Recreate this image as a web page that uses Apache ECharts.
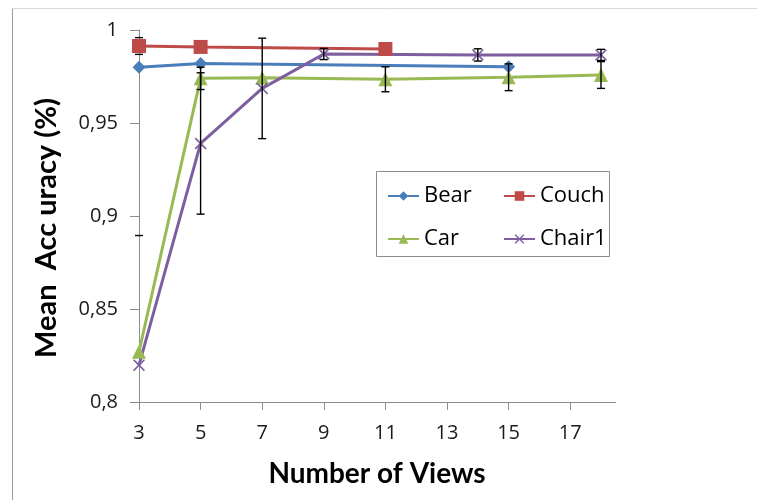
<!DOCTYPE html>
<html>
<head>
<meta charset="utf-8">
<script src="https://cdn.jsdelivr.net/npm/echarts@6/dist/echarts.min.js"></script>
<style>html,body{margin:0;padding:0;background:#fff;}#c{width:757px;height:500px;}</style>
</head>
<body>
<div id="c"></div>
<script>
// ---- data ----
const xCategories = ['3','4','5','6','7','8','9','10','11','12','13','14','15','16','17','18'];
const yTicks = [0.8, 0.85, 0.9, 0.95, 1];

const bearX = [3, 5, 15];
const bearY = [0.980, 0.982, 0.9803];
const bearErr = [0, 0, 0];

const couchX = [3, 5, 11];
const couchY = [0.9914, 0.9909, 0.9898];
const couchErr = [0.0045, 0, 0];

const carX = [3, 5, 7, 11, 15, 18];
const carY = [0.827, 0.974, 0.9743, 0.9735, 0.9746, 0.9758];
const carErr = [0.0625, 0.006, 0, 0.0067, 0.0072, 0.0072];

const chairX = [3, 5, 7, 9, 14, 18];
const chairY = [0.8198, 0.939, 0.9686, 0.9871, 0.9866, 0.9866];
const chairErr = [0, 0.038, 0.027, 0.003, 0.0033, 0.003];

const seriesNames = ['Bear', 'Couch', 'Car', 'Chair1'];
const colors = ['#4A7EBB', '#BE4B48', '#98B954', '#7D5FA0'];

// ---- build ----
const Y_MIN = yTicks[0], Y_MAX = yTicks[yTicks.length - 1];
function pairs(xs, ys) { return xs.map((x, i) => [String(x), ys[i]]); }
function errData(xs, ys, es) {
  const out = [];
  xs.forEach((x, i) => { if (es[i] > 0) out.push([String(x), ys[i] - es[i], ys[i] + es[i]]); });
  return out;
}
const xSym = 'path://M0,1L1,0L5,4L9,0L10,1L6,5L10,9L9,10L5,6L1,10L0,9L4,5Z';

function lineSeries(name, xs, ys, color, symbol, size) {
  return {
    name: name, type: 'line', data: pairs(xs, ys),
    symbol: symbol, symbolSize: size, showSymbol: true,
    lineStyle: { color: color, width: 3 },
    itemStyle: { color: color },
    z: 2, animation: false
  };
}
function errSeries(xs, ys, es, z) {
  return {
    type: 'custom', name: 'err', z: z, animation: false, silent: true,
    data: errData(xs, ys, es),
    encode: { x: 0, y: [1, 2] },
    renderItem: function (params, api) {
      const x = api.value(0), lo = api.value(1), hi = api.value(2);
      const loC = Math.max(lo, Y_MIN), hiC = Math.min(hi, Y_MAX);
      const pHi = api.coord([x, hiC]);
      const pLo = api.coord([x, loC]);
      const cap = 4;
      const st = { stroke: '#000', lineWidth: 1.4 };
      const ch = [];
      // on the first category the bar body lies under the value axis line
      if (x !== 0) ch.push({ type: 'line', shape: { x1: pHi[0], y1: pHi[1], x2: pLo[0], y2: pLo[1] }, style: st });
      if (hi <= Y_MAX) ch.push({ type: 'line', shape: { x1: pHi[0] - cap, y1: pHi[1], x2: pHi[0] + cap, y2: pHi[1] }, style: st });
      if (lo >= Y_MIN) ch.push({ type: 'line', shape: { x1: pLo[0] - cap, y1: pLo[1], x2: pLo[0] + cap, y2: pLo[1] }, style: st });
      return { type: 'group', children: ch };
    }
  };
}

const FONT = '"Open Sans", "DejaVu Sans", sans-serif';
const oddOnly = function (idx, val) { return (+val) % 2 === 1; };

const chart = echarts.init(document.getElementById('c'), null, { renderer: 'canvas' });
chart.setOption({
  animation: false,
  backgroundColor: '#fff',
  grid: { left: 139, top: 30, width: 462, height: 372, containLabel: false },
  xAxis: {
    type: 'category', data: xCategories, boundaryGap: false,
    name: 'Number of Views', nameLocation: 'middle', nameGap: 58,
    nameTextStyle: { fontFamily: 'Lato, sans-serif', fontWeight: 'bold', fontSize: 28, color: '#000', padding: [0, 0, 0, 14] },
    axisLine: { lineStyle: { color: '#8c8c8c', width: 1 } },
    axisTick: { show: true, interval: oddOnly, length: 8, lineStyle: { color: '#8c8c8c' } },
    axisLabel: { interval: oddOnly, margin: 21, fontFamily: FONT, fontSize: 20, color: '#1a1a1a' },
    splitLine: { show: false }
  },
  yAxis: {
    type: 'value', min: Y_MIN, max: Y_MAX, interval: 0.05,
    name: 'Mean  Acc uracy (%)', nameLocation: 'middle', nameGap: 78, nameRotate: 90,
    nameTextStyle: { fontFamily: 'Lato, sans-serif', fontWeight: 'bold', fontSize: 29, color: '#000', padding: [0, 24, 0, 0] },
    axisLine: { show: true, lineStyle: { color: '#8c8c8c', width: 1 } },
    axisTick: { show: true, length: 9, lineStyle: { color: '#8c8c8c' } },
    axisLabel: {
      margin: 21, fontFamily: FONT, fontSize: 20, color: '#1a1a1a',
      formatter: function (v) { return String(parseFloat(v.toFixed(2))).replace('.', ','); }
    },
    splitLine: { show: false }
  },
  legend: [
    {
      data: ['Bear', 'Car'], orient: 'vertical', left: 382, top: 180,
      itemWidth: 31, itemHeight: 12, itemGap: 21,
      textStyle: { fontFamily: FONT, fontSize: 22, color: '#000', lineHeight: 22 }
    },
    {
      data: ['Couch', 'Chair1'], orient: 'vertical', left: 498, top: 180,
      itemWidth: 31, itemHeight: 12, itemGap: 21,
      textStyle: { fontFamily: FONT, fontSize: 22, color: '#000', lineHeight: 22 }
    }
  ],
  graphic: [
    { type: 'line', silent: true, shape: { x1: 12.5, y1: 8, x2: 12.5, y2: 500 }, style: { stroke: '#9a9a9a', lineWidth: 1 } },
    { type: 'line', silent: true, shape: { x1: 12, y1: 8.5, x2: 757, y2: 8.5 }, style: { stroke: '#d9d9d9', lineWidth: 1 } },
    { type: 'line', silent: true, shape: { x1: 601, y1: 402.5, x2: 616, y2: 402.5 }, style: { stroke: '#8c8c8c', lineWidth: 1 } },
    { type: 'rect', silent: true, z: -1, shape: { x: 376.5, y: 171.5, width: 233, height: 85 }, style: { fill: '#fff', stroke: '#8c8c8c', lineWidth: 1 } }
  ],
  series: [
    errSeries(couchX, couchY, couchErr, 1),
    lineSeries(seriesNames[0], bearX, bearY, colors[0], 'diamond', 13),
    lineSeries(seriesNames[1], couchX, couchY, colors[1], 'rect', 14),
    lineSeries(seriesNames[2], carX, carY, colors[2], 'triangle', 14),
    lineSeries(seriesNames[3], chairX, chairY, colors[3], xSym, 12),
    errSeries(bearX, bearY, bearErr, 5),
    errSeries(carX, carY, carErr, 5),
    errSeries(chairX, chairY, chairErr, 5)
  ]
});
</script>
</body>
</html>
